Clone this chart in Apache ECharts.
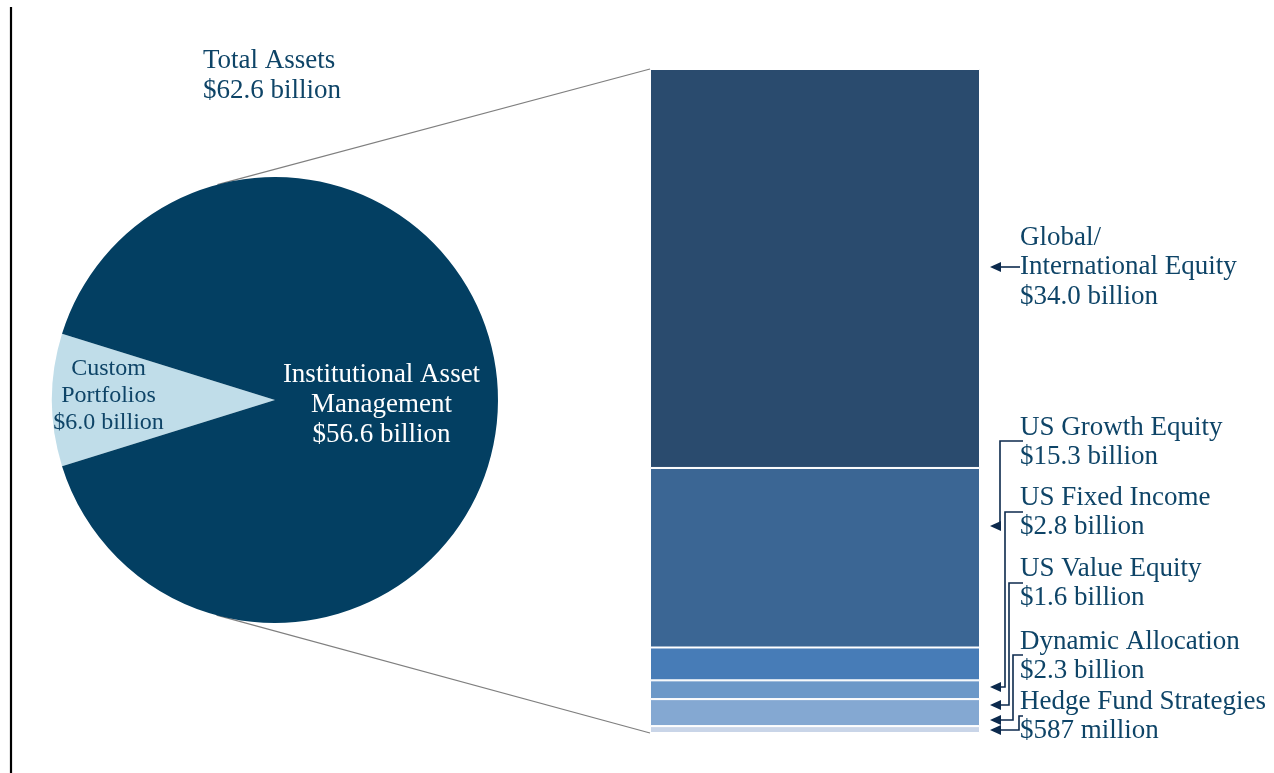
<!DOCTYPE html>
<html>
<head>
<meta charset="utf-8">
<script src="https://cdn.jsdelivr.net/npm/echarts@6/dist/echarts.min.js"></script>
<style>
  html, body { margin: 0; padding: 0; background: #fff; }
  #chart { width: 1274px; height: 773px; }
</style>
</head>
<body>
<div id="chart"></div>
<script>
  // total assets split (pie)
  var pieNames = ['Custom\nPortfolios', 'Institutional Asset\nManagement'];
  var pieValues = [6.0, 56.6];
  var totalAssets = 62.6;

  // institutional asset management breakdown (stacked bar), bottom to top
  var barNames = ['Hedge Fund Strategies', 'Dynamic Allocation', 'US Value Equity',
    'US Fixed Income', 'US Growth Equity', 'Global/\nInternational Equity'];
  var barValues = [0.587, 2.3, 1.6, 2.8, 15.3, 34.0];

  var pieColors = ['#C0DDE9', '#033F62'];
  var barColors = ['#C9D5E8', '#84A8D2', '#6B98C8', '#477CB7', '#3B6694', '#2A4B6E'];
  var textColor = '#0E4467';
  var lineColor = '#0C2A4D';
  var font = '"Liberation Serif", "Times New Roman", serif';

  // layout
  var pieCenter = [275, 400], pieRadius = 223;
  var barBox = { left: 650, top: 69, width: 330, height: 664 };
  var labelX = 1020;
  // first line centre of each right label, bottom to top (same order as barNames)
  var labelY = [701, 641, 568, 497, 427, 237];
  // connector: [stub y, elbow x, arrow y]; elbow null = straight arrow
  var connectors = [[716, 1019, 730], [655, 1013, 720], [583, 1009, 705],
    [512, 1005, 687], [441, 1000, 526], [267, null, 267]];
  var arrowTipX = 990;

  function money(v) {
    return v >= 1 ? '$' + v.toFixed(1) + ' billion' : '$' + Math.round(v * 1000) + ' million';
  }

  var chart = echarts.init(document.getElementById('chart'));
  var pieSum = pieValues[0] + pieValues[1];

  var series = [{
    type: 'pie',
    center: pieCenter,
    radius: pieRadius,
    startAngle: 180 + pieValues[0] / pieSum * 180,
    clockwise: true,
    silent: true,
    label: {
      show: true,
      position: 'inside',
      fontFamily: font,
      formatter: function (p) { return p.name + '\n' + money(p.value); }
    },
    labelLine: { show: false },
    labelLayout: function (p) {
      return p.dataIndex === 0 ? { dx: -26, dy: -2 } : { dx: -4, dy: 2.5 };
    },
    data: pieValues.map(function (v, i) {
      return {
        name: pieNames[i], value: v,
        itemStyle: { color: pieColors[i] },
        label: i === 0
          ? { fontSize: 24, lineHeight: 27, color: textColor }
          : { fontSize: 27, lineHeight: 30, color: '#fff' }
      };
    })
  }];

  barValues.forEach(function (v, i) {
    series.push({
      type: 'bar',
      name: barNames[i],
      stack: 'iam',
      barWidth: '100%',
      silent: true,
      itemStyle: { color: barColors[i], borderColor: '#fff', borderWidth: 1 },
      data: [v]
    });
  });

  chart.setOption({
    animation: false,
    grid: barBox,
    xAxis: { type: 'category', data: ['IAM'], show: false },
    yAxis: { type: 'value', min: 0, max: 'dataMax', show: false },
    series: series
  });

  // series lines: tangent from bar corners to the pie
  var barSum = barValues.reduce(function (a, b) { return a + b; }, 0);
  var yTop = chart.convertToPixel({ yAxisIndex: 0 }, barSum);
  var yBottom = chart.convertToPixel({ yAxisIndex: 0 }, 0);

  function tangent(px, py, side) {
    var dx = px - pieCenter[0], dy = py - pieCenter[1];
    var d = Math.sqrt(dx * dx + dy * dy);
    var a = Math.atan2(dy, dx) + side * Math.acos(pieRadius / d);
    return [pieCenter[0] + pieRadius * Math.cos(a), pieCenter[1] + pieRadius * Math.sin(a)];
  }

  var graphics = [];
  graphics.push({ type: 'line', shape: { x1: 11, y1: 7, x2: 11, y2: 773 },
    style: { stroke: '#000', lineWidth: 2.2 } });
  var t1 = tangent(barBox.left, yTop, -1);
  var t2 = tangent(barBox.left, yBottom, 1);
  graphics.push({ type: 'line', shape: { x1: t1[0], y1: t1[1], x2: barBox.left, y2: yTop },
    style: { stroke: '#7F7F7F', lineWidth: 1.2 } });
  graphics.push({ type: 'line', shape: { x1: t2[0], y1: t2[1], x2: barBox.left, y2: yBottom },
    style: { stroke: '#7F7F7F', lineWidth: 1.2 } });

  graphics.push({ type: 'text', x: 203, y: 46,
    style: { text: 'Total Assets\n' + money(totalAssets), fontSize: 27, fontFamily: font,
      lineHeight: 30, fill: textColor, verticalAlign: 'top' } });

  barNames.forEach(function (n, i) {
    graphics.push({ type: 'text', x: labelX, y: labelY[i] - 14,
      style: { text: n + '\n' + money(barValues[i]), fontSize: 27, fontFamily: font,
        lineHeight: 29.5, fill: textColor, verticalAlign: 'top' } });
    var c = connectors[i];
    var pts = c[1] === null
      ? [[labelX, c[0]], [arrowTipX + 8, c[2]]]
      : [[labelX + 3, c[0]], [c[1], c[0]], [c[1], c[2]], [arrowTipX + 8, c[2]]];
    graphics.push({ type: 'polyline', shape: { points: pts },
      style: { stroke: lineColor, lineWidth: 1.6, fill: null } });
    graphics.push({ type: 'polygon',
      shape: { points: [[arrowTipX, c[2]], [arrowTipX + 11, c[2] - 5], [arrowTipX + 11, c[2] + 5]] },
      style: { fill: lineColor } });
  });

  chart.setOption({ graphic: graphics });
</script>
</body>
</html>
